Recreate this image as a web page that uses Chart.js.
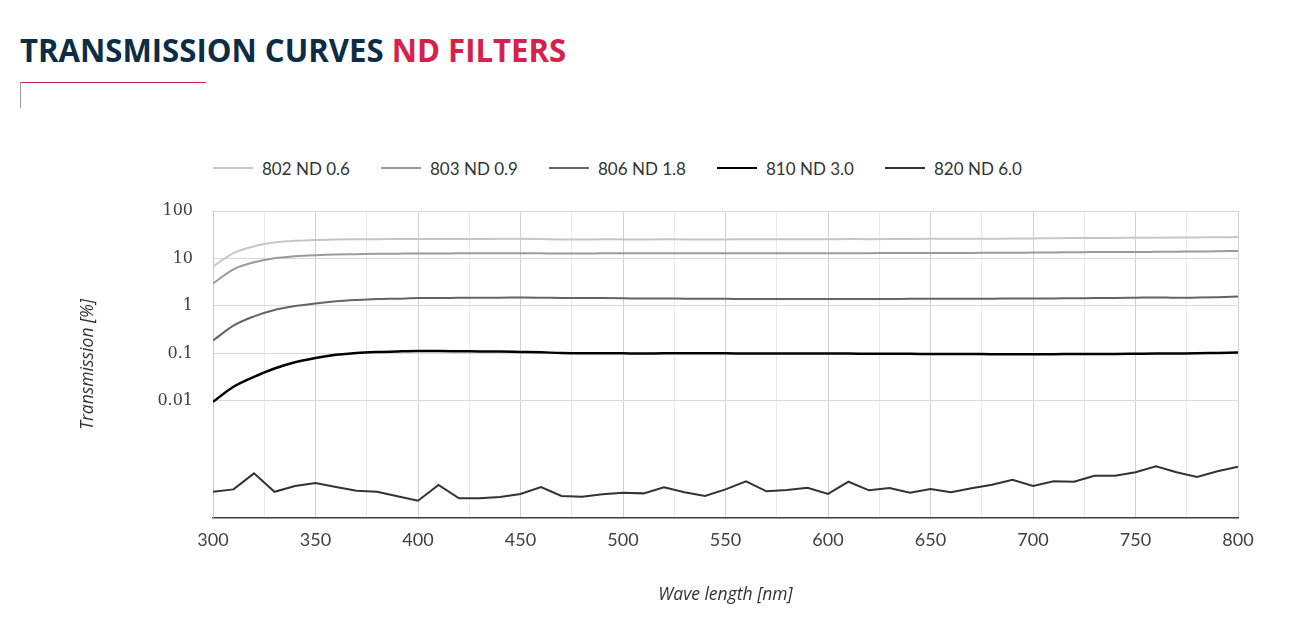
<!DOCTYPE html>
<html>
<head>
<meta charset="utf-8">
<script src="https://cdn.jsdelivr.net/npm/chart.js@4.4.1/dist/chart.umd.min.js"></script>
<style>
  html, body { margin: 0; padding: 0; background: #fff; }
  #wrap { position: relative; width: 1305px; height: 621px; overflow: hidden; }
  #title {
    position: absolute; left: 20px; top: 30px; margin: 0;
    font-family: "Open Sans", sans-serif; font-weight: 700;
    font-size: 33px; line-height: 40px; color: #0d2d45; white-space: nowrap;
    transform: scaleX(0.943); transform-origin: left center;
  }
  #title span { color: #d5214b; }
  #rule-h { position: absolute; left: 20px; top: 82px; width: 186px; height: 1px; background: #d5214b; }
  #rule-v { position: absolute; left: 20px; top: 82px; width: 1px; height: 26px; background: #9a9a9a; }
  #legend {
    position: absolute; left: 213px; top: 156px; display: flex;
    font-family: Lato, "Open Sans", sans-serif; font-size: 17px; color: #333;
  }
  .item { width: 168px; display: flex; align-items: center; height: 24px; }
  .swatch { width: 40px; height: 2px; margin-right: 9px; }
  canvas { position: absolute; left: 0; top: 0; }
</style>
</head>
<body>
<div id="wrap">
  <h1 id="title">TRANSMISSION CURVES <span>ND FILTERS</span></h1>
  <div id="rule-h"></div>
  <div id="rule-v"></div>
  <div id="legend"></div>
  <canvas id="chart" width="1305" height="621"></canvas>
</div>
<script>
// wavelengths (nm)
const wavelengths = [300, 310, 320, 330, 340, 350, 360, 370, 380, 390, 400, 410, 420, 430, 440, 450, 460, 470, 480, 490,
  500, 510, 520, 530, 540, 550, 560, 570, 580, 590, 600, 610, 620, 630, 640, 650, 660, 670, 680, 690,
  700, 710, 720, 730, 740, 750, 760, 770, 780, 790, 800];

// transmission in %
const nd06 = [6.8, 13.0, 18.0, 21.6, 23.6, 24.4, 25.0, 25.3, 25.5, 25.6, 25.8, 25.7, 25.6, 25.7, 25.9, 26.0, 25.6, 25.2, 25.1, 25.3,
  25.2, 25.1, 25.3, 25.2, 25.2, 25.2, 25.3, 25.3, 25.4, 25.3, 25.5, 25.6, 25.5, 25.6, 25.8, 25.9, 26.0, 26.1, 26.1, 26.2,
  26.3, 26.7, 26.9, 27.0, 27.1, 27.3, 27.4, 27.6, 27.8, 28.0, 28.2];
const nd09 = [2.96, 5.9, 8.3, 10.1, 11.1, 11.7, 12.1, 12.3, 12.5, 12.6, 12.7, 12.7, 12.8, 12.8, 12.9, 12.9, 12.8, 12.7, 12.7, 12.8,
  12.8, 12.8, 12.9, 12.8, 12.8, 12.8, 12.8, 12.8, 12.8, 12.8, 12.9, 12.9, 12.9, 13.0, 13.0, 13.0, 13.1, 13.1, 13.2, 13.2,
  13.3, 13.4, 13.5, 13.6, 13.6, 13.7, 13.8, 13.9, 14.0, 14.1, 14.4];
const nd18 = [0.186, 0.385, 0.6, 0.82, 0.99, 1.13, 1.25, 1.33, 1.39, 1.42, 1.46, 1.47, 1.48, 1.49, 1.49, 1.50, 1.49, 1.47, 1.46, 1.46,
  1.45, 1.43, 1.43, 1.42, 1.41, 1.41, 1.40, 1.40, 1.40, 1.40, 1.40, 1.40, 1.40, 1.40, 1.41, 1.41, 1.41, 1.42, 1.42, 1.43,
  1.43, 1.44, 1.45, 1.46, 1.47, 1.49, 1.51, 1.48, 1.50, 1.53, 1.57];
const nd30 = [0.0095, 0.0198, 0.032, 0.048, 0.065, 0.080, 0.093, 0.102, 0.107, 0.110, 0.112, 0.112, 0.111, 0.110, 0.109, 0.107, 0.105, 0.102, 0.101, 0.101,
  0.100, 0.099, 0.100, 0.100, 0.100, 0.100, 0.099, 0.099, 0.099, 0.099, 0.099, 0.099, 0.098, 0.098, 0.098, 0.097, 0.097, 0.097, 0.096, 0.096,
  0.096, 0.096, 0.097, 0.097, 0.097, 0.098, 0.099, 0.099, 0.100, 0.102, 0.104];
const nd60 = [0.000121, 0.000136, 0.000296, 0.000121, 0.000160, 0.000185, 0.000152, 0.000127, 0.000121, 0.000097, 0.0000785,
  0.000168, 0.000088, 0.000088, 0.000094, 0.000109, 0.000152, 0.000099, 0.000095, 0.000107, 0.000116,
  0.000112, 0.000150, 0.000118, 0.000099, 0.000136, 0.000201, 0.000124, 0.000132, 0.000147, 0.000109,
  0.000197, 0.000130, 0.000145, 0.000116, 0.000138, 0.000118, 0.000143, 0.000171, 0.000217, 0.000160,
  0.000201, 0.000197, 0.000264, 0.000264, 0.000311, 0.000416, 0.000311, 0.000248, 0.000327, 0.000408];

const seriesNames = ['802 ND 0.6', '803 ND 0.9', '806 ND 1.8', '810 ND 3.0', '820 ND 6.0'];
const seriesData = [nd06, nd09, nd18, nd30, nd60];
const seriesColors = ['#c6c6c6', '#9a9a9a', '#646464', '#000000', '#333333'];

const yTicks = [0.01, 0.1, 1, 10, 100];
const xMin = 300, xMax = 800;

const font = "Lato, 'Open Sans', sans-serif";
const titleFont = { family: "'Open Sans', sans-serif", size: 17.5, style: 'italic' };

const datasets = seriesData.map((vals, i) => ({
  label: seriesNames[i],
  data: wavelengths.map((w, j) => ({ x: w, y: vals[j] })),
  borderColor: seriesColors[i],
  backgroundColor: seriesColors[i],
  borderWidth: i === 3 ? 2.5 : 2,
  pointRadius: 0,
  tension: i === 4 ? 0 : 0.4,
  cubicInterpolationMode: i === 4 ? 'default' : 'monotone'
}));

new Chart(document.getElementById('chart'), {
  type: 'line',
  data: { datasets },
  options: {
    responsive: false,
    animation: false,
    devicePixelRatio: 1,
    layout: { padding: { top: 211, right: 67, bottom: 0, left: 0 } },
    plugins: { legend: { display: false }, tooltip: { enabled: false } },
    scales: {
      x: {
        type: 'linear', min: xMin, max: xMax,
        afterFit(scale) { scale.height = 103.3; },
        ticks: {
          stepSize: 25, autoSkip: false, maxRotation: 0, padding: 12,
          color: '#404040', font: { family: font, size: 18 },
          callback: v => (v % 50 === 0 ? String(v) : '')
        },
        grid: {
          drawTicks: false,
          color: c => (c.tick && c.tick.value % 50 === 0 ? '#d2d2d2' : '#e9e9e9'),
          lineWidth: 1
        },
        border: { color: '#3c3c3c', width: 1.5 },
        title: {
          display: true, text: 'Wave length [nm]', color: '#333',
          font: titleFont,
          padding: { top: 0, bottom: 15 }
        }
      },
      y: {
        type: 'logarithmic', min: 0.0000344, max: 100,
        afterFit(scale) { scale.width = 213; },
        afterBuildTicks(scale) { scale.ticks = yTicks.map(v => ({ value: v })); },
        ticks: {
          padding: 20, color: '#404040',
          font: { family: "'DejaVu Serif', serif", size: 16 },
          callback: v => String(v)
        },
        grid: { drawTicks: false, color: '#d9d9d9', lineWidth: 1 },
        border: { color: '#c8c8c8', width: 1 },
        title: {
          display: true, text: 'Transmission [%]', color: '#333',
          font: titleFont,
          padding: { top: 78, bottom: 0 }
        }
      }
    }
  }
});

// legend
document.getElementById('legend').innerHTML = datasets.map(d => `
  <div class="item"><span class="swatch" style="background:${d.borderColor}"></span><span>${d.label}</span></div>
`).join('');
</script>
</body>
</html>
